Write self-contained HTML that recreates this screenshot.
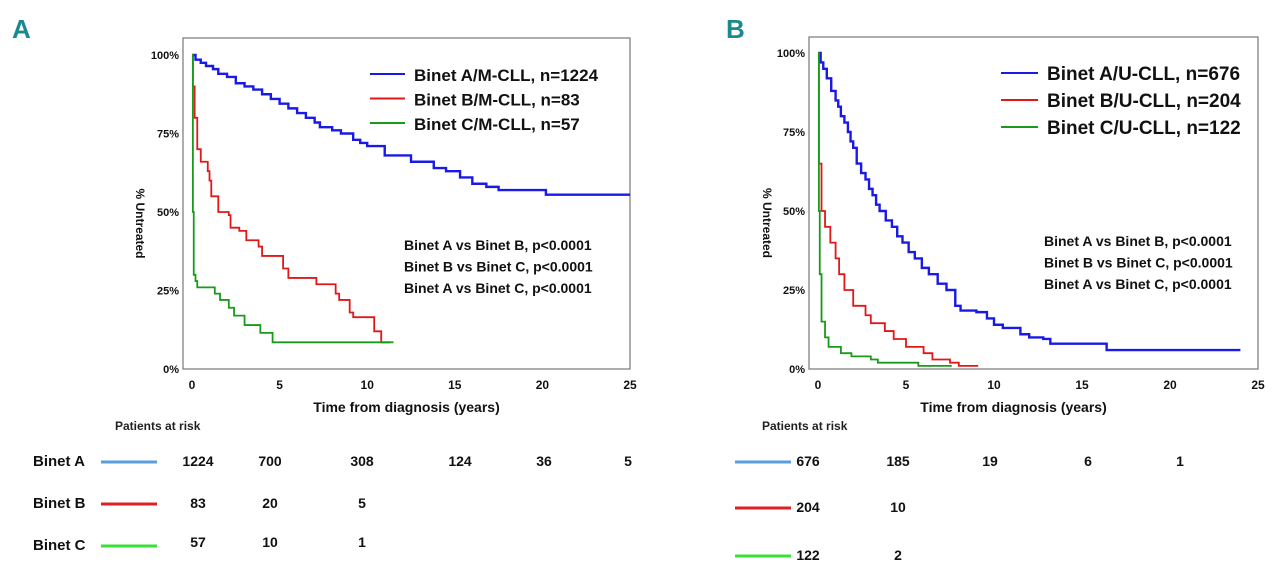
<!DOCTYPE html>
<html><head><meta charset="utf-8"><style>
body{margin:0;background:#fff;width:1280px;height:574px;overflow:hidden;font-family:"Liberation Sans",sans-serif}
svg text{font-family:"Liberation Sans Narrow","Liberation Sans",sans-serif;font-weight:bold}
</style></head><body>
<svg id="c" width="1280" height="574"></svg>
<script>
const ticksX=[0,5,10,15,20,25];
const ticksY=[0,25,50,75,100];
// Panel A
const aBlueT=[0,0.2,0.5,0.8,1.2,1.5,2.0,2.5,3.0,3.5,4.0,4.5,5.0,5.5,6.0,6.5,7.0,7.3,8.0,8.5,9.2,9.6,10,11,12.5,13.8,14.5,15.3,16,16.8,17.5,20.2];
const aBlueS=[100,98.5,97.5,96.5,95.5,94,93,91,90,89,87.5,86,84.5,83,81.5,80,78.5,77,76,75,73,72,71,68,66,64,63,61,59,58,57,55.5];
const aRedT=[0,0.05,0.15,0.3,0.5,0.9,1.0,1.1,1.5,2.1,2.2,2.7,3.1,3.8,4.0,5.2,5.5,7.1,8.2,8.4,9.0,9.2,10.4,10.8];
const aRedS=[100,90,80,70,66,63,60,55,50,49,45,44,41,39,36,32,29,27,24,22,18,16.5,12,8.5];
const aGreenT=[0,0.05,0.1,0.2,0.3,1.3,1.6,2.1,2.4,3.0,3.9,4.6];
const aGreenS=[100,50,30,28,26,24,22,19.5,17,14,11.5,8.5];
// Panel B
const bBlueT=[0,0.15,0.3,0.5,0.75,1.0,1.15,1.3,1.5,1.7,1.85,2.0,2.2,2.45,2.7,2.9,3.1,3.3,3.5,3.85,4.2,4.5,4.8,5.15,5.5,5.9,6.3,6.8,7.3,7.8,8.1,9.0,9.6,10,10.5,11.5,12,12.8,13.2,16.4];
const bBlueS=[100,97,95,92,88,85,83,80,78,75,72,70,65,62,60,57,55,52,50,47,45,42,40,37,35,32,30,27,25,20,18.5,18,16,14,13,11,10,9.5,8,6];
const bRedT=[0,0.05,0.2,0.4,0.7,1.0,1.2,1.5,2.0,2.7,3.0,3.8,4.3,5.0,6.0,6.5,7.5,8.0];
const bRedS=[100,65,50,45,40,35,30,25,20,17,14.5,12,9.5,7,5,3,2,1];
const bGreenT=[0,0.05,0.1,0.2,0.4,0.6,1.3,1.9,3.0,3.4,5.7];
const bGreenS=[100,50,30,15,10,7,5,4,3,2,1];
const riskA1=[1224,700,308,124,36,5],riskA2=[83,20,5],riskA3=[57,10,1];
const riskB1=[676,185,19,6,1],riskB2=[204,10],riskB3=[122,2];

const NS="http://www.w3.org/2000/svg",svg=document.getElementById('c');
function el(t,a,p){const e=document.createElementNS(NS,t);for(const k in a)e.setAttribute(k,a[k]);(p||svg).appendChild(e);return e;}
function tx(x,y,s,size,anchor,fill,p){const e=el('text',{x:x,y:y,'font-size':size,'text-anchor':anchor||'start',fill:fill||'#111'},p);e.textContent=s;return e;}

function panel(P){
 const g=el('g',{});
 
 
 const X=v=>P.x0+v*(P.x25-P.x0)/25, Y=v=>P.y0-v*(P.y0-P.y100)/100;
 el('rect',{x:P.bx,y:P.by,width:P.bw,height:P.bh,fill:'none',stroke:'#777','stroke-width':1.2},g);
 ticksX.forEach(t=>{const e=tx(X(t),P.y0+20,String(t),12,'middle','#111',g);});
 ticksY.forEach(t=>{const e=tx(P.bx-4,Y(t)+4,t+'%',11,'end','#111',g);});
 const xt=tx((P.bx+P.bx+P.bw)/2+(P.xtOff||0),412,'Time from diagnosis (years)',14,'middle','#111',g);
 
 const yt=tx(0,0,'% Untreated',12,'middle','#111',g);
 yt.setAttribute('transform','translate('+P.ytx+','+((P.by+P.y0)/2+20)+') rotate(90)');
 
 P.series.forEach(s=>{
  let d='M'+X(s.t[0])+','+Y(s.s[0]);
  for(let i=1;i<s.t.length;i++){d+=' H'+X(s.t[i])+' V'+Y(s.s[i]);}
  d+=' H'+X(s.end);
  const p=el('path',{d:d,fill:'none',stroke:s.c,'stroke-width':s.w||1.8},g);
  
 });
 P.legend.forEach((l,i)=>{
  const y=P.ly+i*P.lg;
  const ln=el('line',{x1:P.lx,x2:P.lx+P.ll,y1:y,y2:y,stroke:l[1],'stroke-width':2},g);
  
  const t=tx(P.lx+P.ll+9,y+7,l[0],P.lfs,'start','#111',g);
  
 });
 ['Binet A vs Binet B, p<0.0001','Binet B vs Binet C, p<0.0001','Binet A vs Binet C, p<0.0001'].forEach((s,i)=>{
  const t=tx(P.px,P.py+i*21.5,s,14,'start','#111',g);
 });
 const pr=tx(P.prx,430,'Patients at risk',12,'start','#222',g);
 pr.setAttribute('font-weight','normal');
 P.rows.forEach((r,i)=>{
  if(r.label){const t=tx(P.labx,r.y+5,r.label,15,'start','#111',g);}
  const ln=el('line',{x1:P.rlx,x2:P.rlx+56,y1:r.y+1,y2:r.y+1,stroke:r.c,'stroke-width':3},g);
  
  r.v.forEach((v,j)=>{const t=tx(P.cols[j],r.y+5+(r.dy||0),String(v),14,'middle','#111',g);});
 });
}
panel({name:'panel-a',bx:183,by:38,bw:447,bh:331,x0:192,x25:630,y0:369,y100:55,ytx:136,
 series:[{t:aBlueT,s:aBlueS,c:'#1a1ae6',end:25,n:'binet-a-curve',w:2.4},{t:aRedT,s:aRedS,c:'#e01818',end:11.3,n:'binet-b-curve'},{t:aGreenT,s:aGreenS,c:'#1a9a1a',end:11.5,n:'binet-c-curve'}],
 legend:[['Binet A/M-CLL, n=1224','#1a1ae6'],['Binet B/M-CLL, n=83','#e01818'],['Binet C/M-CLL, n=57','#1a9a1a']],
 lx:370,ll:35,ly:74,lg:24.5,lfs:17,px:404,py:250,prx:115,labx:33,rlx:101,
 cols:[198,270,362,460,544,628],
 rows:[{label:'Binet A',y:461,c:'#5a9ee0',v:riskA1},{label:'Binet B',y:503,c:'#e02020',v:riskA2},{label:'Binet C',y:545,c:'#38e038',v:riskA3,dy:-3}]});
panel({name:'panel-b',bx:809,by:37,bw:449,bh:332,x0:818,x25:1258,y0:369,y100:53,xtOff:-20,ytx:763,
 series:[{t:bBlueT,s:bBlueS,c:'#1a1ae6',end:24,n:'binet-a-curve',w:2.4},{t:bRedT,s:bRedS,c:'#e01818',end:9.1,n:'binet-b-curve'},{t:bGreenT,s:bGreenS,c:'#1a9a1a',end:7.6,n:'binet-c-curve'}],
 legend:[['Binet A/U-CLL, n=676','#1a1ae6'],['Binet B/U-CLL, n=204','#e01818'],['Binet C/U-CLL, n=122','#1a9a1a']],
 lx:1001,ll:37,ly:73,lg:27,lfs:19,px:1044,py:246,prx:762,labx:0,rlx:735,
 cols:[808,898,990,1088,1180],
 rows:[{y:461,c:'#5a9ee0',v:riskB1},{y:507,c:'#e02020',v:riskB2},{y:555,c:'#38e038',v:riskB3}]});
const la=tx(12,38,'A',26,'start','#1a8a8f');
const lb=tx(726,38,'B',26,'start','#1a8a8f');
</script>
</body></html>
